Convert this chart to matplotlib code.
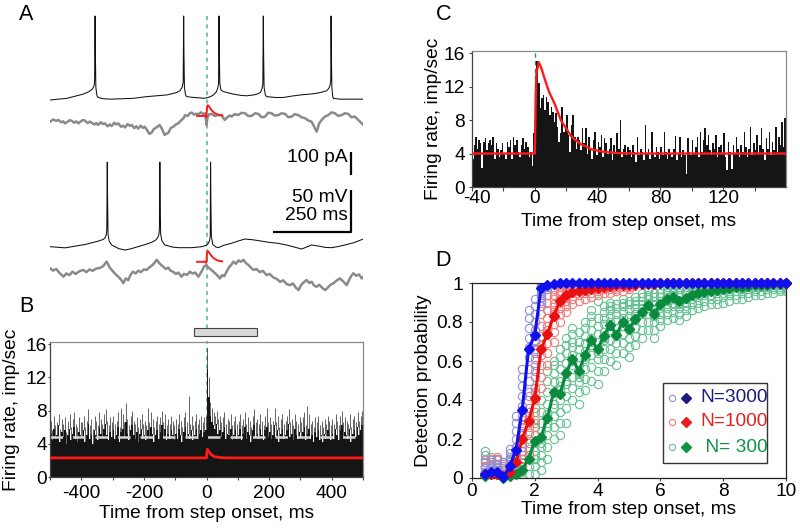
import numpy as np
import matplotlib
matplotlib.use('Agg')
import matplotlib.pyplot as plt
from matplotlib.patches import Rectangle
from matplotlib.transforms import ScaledTranslation

plt.rcParams['font.family'] = ['Liberation Sans', 'DejaVu Sans']
plt.rcParams['axes.unicode_minus'] = False
FS = 13.8

# ======================= DATA =======================
# ---- Panel A: membrane potential (ms, mV) ----
v1_t = [-500, -446, -394, -375, -365, -359, -357.5, -356, -355, -353.5, -350, -346, -330, -308, -270,
        -234, -191, -160, -127, -110, -95, -85, -78, -74.5, -73, -72, -70.5, -67, -63, -40, -20, -8,
        5, 15, 22, 30, 35, 38.5, 40, 41, 42.5, 46, 54, 70, 86, 110, 128, 150, 165, 172, 177, 180,
        181.5, 182.5, 184, 188, 192, 220, 245, 270, 299, 330, 352, 370, 384, 391, 395, 397, 398,
        399, 400.5, 403, 405, 426, 460, 500]
v1_mv = [-65, -63, -58, -55, -52, -48, -42, 35, -10, -50, -60, -62, -63.5, -64, -63.5,
         -63, -61, -60, -59, -57.5, -56, -54, -50, -44, 35, -10, -50, -59, -61, -62, -62.5, -63,
         -62, -60.5, -59, -56, -52, -46, 35, -10, -45, -53, -55, -56.5, -58, -59.5, -60, -59, -57.5, -56, -52, -46,
         35, -10, -50, -59, -61, -62, -62, -60.5, -59, -58, -57, -55.5, -54, -51, -47, -42, 35,
         -10, -50, -60, -63, -64, -64, -64]
v2_t = [-500, -452, -420, -388, -346, -330, -324, -320, -318.5, -317, -316, -314.5, -311, -303, -280,
        -260, -240, -219, -195, -175, -163, -156, -152, -150.5, -149, -148, -146.5, -142, -133, -110,
        -90, -47, -15, 0, 6, 10, 12, 13, 14, 15.5, 20, 30, 38, 55, 80, 100, 123, 150, 176, 200, 229,
        260, 290, 304, 320, 336, 360, 380, 400, 420, 442, 470, 501]
v2_mv = [-64.6, -66, -64, -62, -58, -56, -54, -50, -44, 36, -10, -50, -58, -62.6, -67,
         -68.6, -67, -64.6, -62, -59.4, -57, -54, -50, -44, 36, -10, -50, -58, -62.6, -65,
         -65.8, -65.8, -64.6, -63, -60.6, -57, -52, 36, -10, -52, -62, -65, -65.8, -63, -60.6, -58, -55.5, -56.5, -58, -59.5, -60.6,
         -63, -66, -67.4, -65, -62.6, -64, -65.5, -65.8, -64.5, -62.6, -60, -55.5]

# ---- Panel A: input current (ms, pA) ----
i1_t = [-500, -490, -480, -473, -465, -458, -452, -444, -437, -431, -423, -416, -409, -401, -394, -388,
        -380, -373, -367, -358, -352, -346, -338, -331, -324, -316, -309, -303, -295, -288, -282, -273,
        -266, -260, -252, -245, -239, -231, -224, -218, -210, -203, -197, -190, -182, -175, -168, -160,
        -150, -142, -134, -122, -114, -106, -98, -90, -80, -72, -69, -60, -53, -47, -40, -33, -26, -18,
        -10, -5, -2, 0, 3, 8, 16, 26, 37, 48, 58, 66, 75, 80, 90, 101, 112, 123, 133, 144, 155, 166,
        176, 187, 197, 208, 218, 230, 240, 251, 262, 272, 282, 293, 304, 315, 325, 336, 344, 352, 360,
        368, 378, 389, 400, 410, 421, 432, 442, 453, 463, 474, 485, 496, 500]
i1_pa = [-8, 2, -4, 0, -10, -6, -15, -8, -1, -3, -12, -6, -15, -5, 0, -3,
         -14, -7, -12, -20, -14, -22, -10, -18, -15, -28, -20, -27, -12, -20, -15, -30,
         -25, -33, -18, -26, -22, -36, -28, -38, -25, -35, -30, -45, -62, -55, -40, -33,
         -22, -40, -66, -57, -35, -30, -20, -15, 0, 10, 22, 18, 30, 33, 24, 28, 25, 34,
         26, 30, 5, -22, 10, 25, 27, 18, 22, 22, 0, 12, 20, 15, 26, 22, 32, 30, 18, 18, 30, 27,
         12, 15, 32, 30, 20, 22, 30, 27, 12, 15, 26, 22, 12, 8, -2, -8, -30, -52, -15,
         0, 15, 22, 34, 30, 18, 22, 30, 27, 12, 15, 0, -15, -20]
i2_t = [-500, -490, -480, -470, -457, -448, -438, -428, -418, -406, -394, -384, -374, -364, -352, -340,
        -330, -319, -310, -298, -290, -280, -273, -266, -258, -250, -242, -235, -226, -218, -210, -200,
        -191, -182, -172, -165, -159, -152, -145, -138, -130, -122, -115, -107, -98, -90, -80, -72, -62,
        -53, -45, -36, -26, -18, -8, 0, 6, 14, 22, 30, 37, 43, 50, 57, 64, 72, 79, 86, 94, 102, 110,
        118, 126, 134, 142, 150, 160, 170, 180, 192, 202, 213, 224, 235, 245, 256, 267, 276, 285, 294,
        302, 310, 320, 328, 336, 344, 352, 360, 370, 379, 388, 396, 405, 415, 426, 436, 448, 456, 462,
        469, 478, 487, 496, 500]
i2_pa = [15, 5, 12, -5, -22, -8, -15, 0, -10, 2, 8, -2, 10, 4, 14, 17,
         25, 45, 20, 0, -12, -25, -35, -51, -30, -38, -12, 0, -8, 5, -2, 10,
         8, 20, 30, 42, 53, 40, 30, 22, 12, 18, 5, 0, -10, -4, -22, -10, -14,
         0, -8, -4, -22, -5, 22, 30, 18, 10, 0, -10, -20, -30, -15, -20, 0, 20, 30, 45, 35, 50, 44,
         53, 38, 30, 18, 8, 12, -2, 4, -15, -10, -25, -32, -45, -38, -55, -60, -52, -70, -82,
         -60, -48, -37, -50, -45, -62, -67, -58, -72, -82, -70, -58, -52, -40, -30, -42, -60, -35, -20,
         -7, -18, -12, -30, -25]

# spike-triggered current transient (ms, pA above local level)
sta_t = [-30, -3, -1, 0, 1, 2, 4, 7, 10, 15, 20, 28, 38, 50]
sta_pa = [0, 0, -5, 0, 25, 42, 48, 44, 38, 28, 20, 11, 5, 2]
sta_level = [18, 44]

# ---- Panel B: firing rate, 5-ms bins from -500 ms ----
b_start, b_bin = -500, 5
b_solid = [5.2, 4.4, 5.8, 4.6, 5.0, 6.2, 4.2, 5.4, 4.8, 5.6, 4.0, 5.0, 5.8, 4.4, 5.2, 6.0, 4.6, 4.2, 5.4, 5.0,
           4.8, 5.6, 4.2, 5.0, 6.4, 4.6, 5.2, 4.0, 5.6, 5.0, 4.4, 6.0, 5.2, 4.6, 5.8, 6.4, 5.0, 4.4, 5.4, 4.8,
           5.6, 4.6, 5.0, 6.0, 4.2, 5.4, 5.8, 4.8, 6.6, 5.2, 4.4, 5.6, 6.2, 5.0, 4.6, 5.4, 4.2, 5.2, 5.8, 4.6,
           5.0, 4.4, 5.6, 4.8, 6.0, 5.2, 4.2, 5.0, 5.6, 4.6, 5.4, 6.2, 4.8, 5.8, 4.4, 5.2, 4.6, 5.6, 5.0, 4.4,
           5.2, 4.6, 5.8, 5.0, 4.2, 5.4, 6.0, 4.8, 5.2, 4.6, 5.6, 4.4, 5.0, 5.8, 4.6, 5.2, 5.6, 4.8, 5.4, 5.6,
           13.0, 9.6, 7.4, 6.6, 6.2, 5.8, 6.4, 5.2, 5.6, 4.8, 5.4, 6.0, 4.6, 5.2, 5.0, 5.8, 4.4, 5.0, 5.6, 4.6,
           5.0, 5.8, 4.4, 5.2, 6.0, 4.6, 5.4, 5.0, 4.2, 5.6, 6.2, 4.8, 5.2, 4.6, 5.8, 5.0, 4.4, 5.6, 6.0, 4.8,
           5.4, 4.6, 5.0, 6.2, 4.8, 5.6, 4.2, 5.2, 5.8, 4.6, 5.0, 5.6, 6.4, 4.8, 5.2, 4.4, 5.8, 5.0, 4.6, 5.4,
           4.8, 5.4, 6.0, 4.4, 5.2, 5.8, 4.6, 5.0, 4.2, 5.4, 4.8, 5.6, 4.4, 5.0, 4.2, 5.2, 4.6, 5.6, 5.0, 4.4,
           5.2, 4.6, 5.8, 5.0, 4.4, 5.6, 6.2, 4.8, 5.4, 5.0, 4.6, 5.8, 4.2, 5.2, 5.6, 4.8, 6.0, 5.0, 5.6, 6.2]
b_peak = [6.8, 5.6, 7.4, 6.2, 6.6, 7.6, 5.8, 7.0, 6.4, 7.2, 5.4, 6.8, 7.6, 6.0, 7.0, 7.8, 6.4, 6.0, 7.2, 6.6,
          6.6, 7.4, 6.0, 6.8, 8.2, 6.2, 7.0, 5.8, 7.4, 6.8, 6.2, 7.8, 7.0, 6.4, 7.6, 8.2, 6.8, 6.2, 7.2, 6.6,
          7.4, 6.4, 6.8, 7.8, 6.0, 8.3, 7.6, 6.6, 8.9, 7.0, 6.2, 7.4, 8.0, 6.8, 6.4, 7.2, 6.0, 7.0, 7.6, 6.4,
          6.8, 6.2, 8.3, 6.6, 7.8, 7.0, 6.0, 6.8, 7.4, 6.4, 7.2, 8.0, 6.6, 7.6, 6.2, 7.0, 6.4, 7.4, 6.8, 6.2,
          7.0, 6.4, 7.6, 6.8, 6.0, 7.2, 7.8, 6.6, 9.8, 6.4, 7.4, 6.2, 6.8, 7.6, 6.4, 7.0, 7.4, 6.6, 7.2, 7.4,
          15.5, 12.0, 9.0, 8.3, 7.8, 7.4, 8.0, 7.0, 7.4, 6.6, 7.2, 7.8, 6.4, 7.0, 6.8, 7.6, 6.2, 6.8, 7.4, 6.4,
          6.8, 7.6, 6.2, 7.0, 7.8, 6.4, 7.2, 6.8, 6.0, 7.4, 8.2, 6.6, 7.0, 6.4, 7.6, 6.8, 6.2, 7.4, 8.3, 6.6,
          7.2, 6.4, 6.8, 8.3, 6.6, 7.4, 6.0, 7.0, 7.6, 6.4, 6.8, 7.4, 8.2, 6.6, 7.0, 6.2, 7.6, 6.8, 6.4, 7.2,
          6.6, 7.2, 7.8, 6.2, 8.6, 7.6, 6.4, 6.8, 6.0, 7.2, 6.6, 7.4, 6.2, 6.8, 6.0, 7.0, 6.4, 7.4, 6.8, 6.2,
          7.0, 6.4, 7.6, 6.8, 6.2, 7.4, 8.0, 6.6, 7.2, 6.8, 6.4, 7.6, 6.0, 7.0, 7.4, 6.6, 7.8, 6.8, 7.4, 7.9]
b_mean = 4.85
b_fit_t = [-500, 0, 1, 3, 8, 15, 25, 40, 60, 500]
b_fit_v = [2.3, 2.3, 3.0, 3.35, 3.0, 2.7, 2.45, 2.35, 2.3, 2.3]
b_window = [-40, 160]

# ---- Panel C: firing rate, 1-ms bins from -40 ms ----
c_start, c_bin = -40, 1
c_rate = [3.4, 5.0, 6.0, 4.6, 5.6, 5.2, 2.3, 5.4, 5.8, 4.4, 5.2, 5.6, 5.0, 6.0, 3.3, 5.2, 4.5, 3.6, 4.4, 5.2,
          4.0, 3.4, 5.4, 4.8, 5.6, 3.4, 6.0, 5.0, 5.6, 4.2, 3.6, 5.0, 5.8, 4.6, 5.4, 4.8, 3.6, 4.2, 2.5, 6.4,
          12.0, 15.1, 12.4, 9.4, 10.6, 11.0, 9.2, 10.8, 10.2, 8.6, 9.6, 9.0, 7.8, 8.8, 7.2, 5.4, 6.4, 9.6, 6.6, 7.0,
          8.6, 6.2, 4.2, 7.4, 8.6, 6.0, 4.6, 6.0, 5.6, 4.4, 7.0, 5.2, 7.0, 4.0, 6.0, 4.6, 3.4, 5.6, 6.6, 3.8,
          5.4, 4.8, 6.2, 3.6, 5.8, 5.2, 4.0, 4.6, 5.8, 3.2, 5.0, 4.0, 6.4, 4.6, 8.0, 3.6, 4.6, 5.0, 3.8, 4.8,
          4.4, 3.6, 5.0, 4.2, 3.0, 6.0, 3.8, 4.6, 4.2, 3.2, 7.4, 4.0, 4.6, 3.4, 6.6, 4.0, 3.6, 4.8, 4.2, 3.4,
          4.8, 3.8, 6.6, 4.2, 3.4, 4.6, 4.0, 3.6, 4.6, 6.1, 3.2, 4.0, 6.0, 3.6, 4.4, 3.8, 1.6, 5.8, 4.2, 3.8,
          5.6, 4.0, 4.8, 6.0, 3.6, 6.6, 4.2, 5.6, 7.0, 5.0, 6.2, 4.4, 3.8, 5.2, 4.6, 6.2, 3.6, 4.8, 5.0, 4.0,
          6.4, 3.6, 2.0, 5.4, 4.2, 2.2, 5.0, 4.0, 6.0, 4.6, 3.6, 5.0, 4.2, 6.6, 4.8, 3.6, 4.6, 7.2, 3.8, 5.2,
          4.4, 6.2, 4.0, 5.0, 7.0, 4.6, 3.2, 5.8, 4.6, 6.6, 3.8, 5.4, 4.4, 7.2, 4.2, 6.0, 5.0, 7.8, 4.8, 8.2]
c_fit_t = [-40, 0, 0.5, 1, 2.5, 4, 6.5, 9, 12.5, 16.8, 20, 23, 26, 29.5, 33, 36, 44, 53, 65, 80, 160]
c_fit_v = [4.0, 4.0, 10.0, 13.5, 14.9, 14.3, 12.8, 11.4, 10.0, 7.9, 7.0, 6.1, 5.6, 5.1, 4.8, 4.5, 4.2, 4.05, 4.0, 4.0, 4.0]

# ---- Panel D: detection probability ----
d_x = [0.4, 0.6, 0.8, 1.0, 1.2, 1.4, 1.6, 1.8, 2.0, 2.2, 2.4, 2.6, 2.8, 3.0, 3.2, 3.4, 3.6, 3.8, 4.0, 4.2,
       4.4, 4.6, 4.8, 5.0, 5.2, 5.4, 5.6, 5.8, 6.0, 6.2, 6.4, 6.6, 6.8, 7.0, 7.2, 7.4, 7.6, 7.8, 8.0, 8.2,
       8.4, 8.6, 8.8, 9.0, 9.2, 9.4, 9.6, 9.8, 10.0]
d_n3000 = [0.02, 0.03, 0.03, 0.005, 0.06, 0.145, 0.35, 0.66, 0.735, 0.975, 0.99, 0.995, 1.0, 1.0, 1.0, 1.0,
           1.0, 1.0, 1.0, 1.0, 1.0, 1.0, 1.0, 1.0, 1.0, 1.0, 1.0, 1.0, 1.0, 1.0, 1.0, 1.0, 1.0, 1.0, 1.0, 1.0,
           1.0, 1.0, 1.0, 1.0, 1.0, 1.0, 1.0, 1.0, 1.0, 1.0, 1.0, 1.0, 1.0]
d_n1000 = [0.02, 0.02, 0.02, 0.01, 0.03, 0.08, 0.2, 0.29, 0.41, 0.66, 0.74, 0.83, 0.91, 0.94, 0.955, 0.96,
           0.965, 0.97, 0.975, 0.98, 0.985, 0.99, 0.99, 0.99, 0.99, 0.995, 0.995, 0.995, 1.0, 1.0, 1.0, 1.0,
           1.0, 1.0, 1.0, 1.0, 1.0, 1.0, 1.0, 1.0, 1.0, 1.0, 1.0, 1.0, 1.0, 1.0, 1.0, 1.0, 1.0]
d_n300 = [0.01, 0.02, 0.02, 0.0, 0.01, 0.02, 0.04, 0.1, 0.19, 0.21, 0.31, 0.44, 0.43, 0.54, 0.61, 0.55,
          0.63, 0.71, 0.66, 0.73, 0.785, 0.735, 0.8, 0.765, 0.815, 0.85, 0.885, 0.84, 0.89, 0.92, 0.93, 0.91,
          0.925, 0.94, 0.95, 0.955, 0.96, 0.965, 0.97, 0.975, 0.98, 0.98, 0.985, 0.99, 0.99, 0.99, 0.995, 0.995, 1.0]
# individual runs (one row per x value, starting at 0.4 ms)
d_n3000_runs = [
    [0.00, 0.02, 0.05, 0.08, 0.12, 0.03], [0.01, 0.04, 0.06, 0.09, 0.02, 0.05],
    [0.00, 0.03, 0.07, 0.10, 0.05, 0.02], [0.00, 0.01, 0.02, 0.04, 0.06, 0.08],
    [0.00, 0.03, 0.05, 0.08, 0.10, 0.13, 0.15, 0.06, 0.11, 0.02],
    [0.04, 0.08, 0.12, 0.16, 0.20, 0.24, 0.28, 0.32, 0.14, 0.10],
    [0.16, 0.22, 0.27, 0.32, 0.37, 0.42, 0.47, 0.52, 0.56, 0.35],
    [0.44, 0.50, 0.56, 0.62, 0.67, 0.72, 0.77, 0.82, 0.86, 0.66],
    [0.55, 0.61, 0.66, 0.71, 0.76, 0.80, 0.84, 0.88, 0.92, 0.73],
    [0.88, 0.91, 0.94, 0.96, 0.98, 0.99, 1.00, 0.97, 0.93, 0.95],
    [0.97, 0.99, 1.00, 1.00, 0.98, 0.99]]
d_n1000_runs = [
    [0.00, 0.03, 0.06, 0.09, 0.02, 0.05], [0.01, 0.04, 0.07, 0.10, 0.03, 0.06],
    [0.00, 0.02, 0.05, 0.09, 0.11, 0.04], [0.00, 0.01, 0.03, 0.05, 0.07, 0.02],
    [0.00, 0.02, 0.04, 0.07, 0.10, 0.05], [0.02, 0.05, 0.08, 0.12, 0.16, 0.10],
    [0.06, 0.10, 0.14, 0.18, 0.22, 0.26, 0.30, 0.20, 0.12, 0.24],
    [0.12, 0.18, 0.23, 0.28, 0.32, 0.36, 0.42, 0.26, 0.30, 0.34],
    [0.22, 0.28, 0.34, 0.40, 0.46, 0.52, 0.58, 0.64, 0.70, 0.44],
    [0.46, 0.52, 0.58, 0.63, 0.68, 0.73, 0.78, 0.84, 0.90, 0.66],
    [0.58, 0.64, 0.69, 0.74, 0.78, 0.82, 0.86, 0.90, 0.94, 0.76],
    [0.70, 0.75, 0.79, 0.83, 0.86, 0.89, 0.92, 0.94, 0.97, 0.84],
    [0.80, 0.84, 0.87, 0.90, 0.92, 0.94, 0.96, 0.98, 0.99, 0.91],
    [0.85, 0.88, 0.91, 0.93, 0.95, 0.96, 0.97, 0.98, 0.99, 0.94],
    [0.89, 0.92, 0.95, 0.97, 0.98, 1.00], [0.91, 0.94, 0.96, 0.98, 0.99, 1.00],
    [0.92, 0.95, 0.97, 0.98, 0.99, 1.00], [0.93, 0.95, 0.97, 0.98, 0.99, 1.00],
    [0.94, 0.96, 0.97, 0.98, 0.99, 1.00], [0.95, 0.97, 0.98, 0.99, 1.00, 1.00],
    [0.95, 0.97, 0.98, 0.99, 1.00, 1.00], [0.96, 0.97, 0.98, 0.99, 1.00, 1.00],
    [0.96, 0.98, 0.99, 1.00, 1.00, 1.00], [0.97, 0.98, 0.99, 1.00, 1.00, 1.00]]
d_n300_runs = [
    [0.00, 0.03, 0.06, 0.10, 0.14, 0.02], [0.00, 0.02, 0.05, 0.08, 0.11, 0.04],
    [0.00, 0.02, 0.04, 0.07, 0.10, 0.03], [0.00, 0.01, 0.03, 0.05, 0.08, 0.02],
    [0.00, 0.01, 0.03, 0.06, 0.09, 0.04], [0.00, 0.02, 0.04, 0.07, 0.10, 0.05],
    [0.00, 0.03, 0.06, 0.10, 0.14, 0.08], [0.02, 0.06, 0.10, 0.15, 0.20, 0.12],
    [0.02, 0.06, 0.10, 0.14, 0.18, 0.22, 0.26, 0.30, 0.12, 0.36],
    [0.04, 0.08, 0.12, 0.16, 0.20, 0.24, 0.28, 0.34, 0.40, 0.18],
    [0.10, 0.16, 0.22, 0.28, 0.33, 0.38, 0.44, 0.50, 0.55, 0.26],
    [0.20, 0.26, 0.32, 0.38, 0.44, 0.49, 0.54, 0.58, 0.60, 0.36],
    [0.22, 0.28, 0.34, 0.40, 0.45, 0.50, 0.56, 0.62, 0.66, 0.47],
    [0.28, 0.36, 0.42, 0.48, 0.54, 0.59, 0.64, 0.68, 0.72, 0.50],
    [0.40, 0.46, 0.52, 0.58, 0.63, 0.67, 0.70, 0.74, 0.77, 0.60],
    [0.38, 0.44, 0.49, 0.54, 0.58, 0.62, 0.66, 0.70, 0.75, 0.52],
    [0.45, 0.51, 0.56, 0.61, 0.65, 0.69, 0.73, 0.77, 0.80, 0.62],
    [0.50, 0.57, 0.63, 0.68, 0.72, 0.76, 0.80, 0.83, 0.86, 0.70],
    [0.48, 0.55, 0.61, 0.66, 0.70, 0.74, 0.78, 0.82, 0.91, 0.64],
    [0.55, 0.61, 0.66, 0.71, 0.75, 0.79, 0.82, 0.85, 0.88, 0.72],
    [0.60, 0.66, 0.71, 0.76, 0.80, 0.83, 0.86, 0.88, 0.90, 0.78],
    [0.58, 0.64, 0.69, 0.73, 0.77, 0.81, 0.84, 0.87, 0.89, 0.74],
    [0.64, 0.69, 0.74, 0.78, 0.82, 0.85, 0.88, 0.90, 0.92, 0.80],
    [0.62, 0.67, 0.72, 0.76, 0.80, 0.83, 0.86, 0.89, 0.91, 0.77],
    [0.68, 0.73, 0.77, 0.81, 0.84, 0.87, 0.89, 0.91, 0.93, 0.82],
    [0.72, 0.76, 0.80, 0.84, 0.87, 0.89, 0.91, 0.93, 0.95, 0.85],
    [0.76, 0.80, 0.84, 0.87, 0.90, 0.92, 0.94, 0.96, 0.97, 0.88],
    [0.72, 0.76, 0.80, 0.83, 0.86, 0.89, 0.91, 0.93, 0.95, 0.84],
    [0.78, 0.81, 0.84, 0.87, 0.89, 0.91, 0.93, 0.95, 0.97, 0.88],
    [0.81, 0.84, 0.87, 0.89, 0.91, 0.93, 0.95, 0.96, 0.98, 0.92],
    [0.82, 0.85, 0.88, 0.90, 0.92, 0.94, 0.95, 0.96, 0.98, 0.93],
    [0.81, 0.84, 0.87, 0.89, 0.91, 0.93, 0.94, 0.95, 0.97, 0.90],
    [0.83, 0.86, 0.88, 0.90, 0.92, 0.94, 0.95, 0.96, 0.98, 0.92],
    [0.86, 0.89, 0.92, 0.95, 0.97, 0.99], [0.87, 0.90, 0.93, 0.95, 0.97, 0.99],
    [0.88, 0.91, 0.94, 0.96, 0.98, 0.99], [0.89, 0.92, 0.94, 0.96, 0.98, 1.00],
    [0.89, 0.92, 0.95, 0.97, 0.98, 1.00], [0.90, 0.93, 0.95, 0.97, 0.99, 1.00],
    [0.91, 0.94, 0.96, 0.97, 0.99, 1.00], [0.92, 0.94, 0.96, 0.98, 0.99, 1.00],
    [0.92, 0.95, 0.97, 0.98, 0.99, 1.00], [0.93, 0.95, 0.97, 0.98, 0.99, 1.00],
    [0.94, 0.96, 0.97, 0.98, 0.99, 1.00], [0.94, 0.96, 0.98, 0.99, 1.00, 1.00],
    [0.95, 0.97, 0.98, 0.99, 1.00, 1.00], [0.95, 0.97, 0.98, 0.99, 1.00, 1.00],
    [0.96, 0.97, 0.98, 0.99, 1.00, 1.00], [0.96, 0.97, 0.98, 0.99, 1.00, 1.00]]
d_labels = ['N=3000', 'N=1000', ' N= 300']

# ======================= FIGURE =======================
W, H = 800, 529
fig = plt.figure(figsize=(W / 100, H / 100), dpi=100)


def rect(l, t, r, b):
    return [l / W, 1 - b / H, (r - l) / W, (b - t) / H]


DASH = '#5cb8a6'
RED = '#ff1a1a'


def style_axis(ax, xpad, ypad, xlen, ylen):
    ax.tick_params(axis='both', which='both', direction='out', labelsize=FS, color='#444')
    ax.tick_params(axis='x', which='major', length=xlen, pad=xpad, width=0.8)
    ax.tick_params(axis='x', which='minor', length=xlen, width=0.8)
    ax.tick_params(axis='y', which='major', length=ylen, pad=ypad, width=0.8)


# ---------------- Panel A ----------------
axA = fig.add_axes(rect(50, 0, 363, 342))
axA.set_xlim(-500, 500)
axA.set_ylim(342, 0)
axA.axis('off')
MV, PA = 0.84, 0.225          # px per mV, px per pA
v_base = [100, 247]
i_base = [120, 271.7]
for vt, vv, it, ii, vb, ib, lev in [(v1_t, v1_mv, i1_t, i1_pa, v_base[0], i_base[0], sta_level[0]),
                                     (v2_t, v2_mv, i2_t, i2_pa, v_base[1], i_base[1], sta_level[1])]:
    axA.plot(vt, vb - (np.asarray(vv) + 65) * MV, color='#111111', lw=0.75)
    axA.plot(it, ib - np.asarray(ii) * PA, color='#8a8a8a', lw=1.8)
    axA.plot(sta_t, ib - (lev + np.asarray(sta_pa)) * PA, color=RED, lw=1.4)
axA.plot([0, 0], [16, 342], color=DASH, lw=1.2, ls=(0, (2.5, 2.5)), zorder=0)
# scale bars
sb_x = 462
axA.plot([sb_x, sb_x], [152, 152 + 100 * PA], color='k', lw=1.6, solid_capstyle='butt')
axA.plot([sb_x, sb_x, sb_x - 250], [232 - 50 * MV, 232, 232], color='k', lw=1.6, solid_capstyle='butt')
axA.text(450, 158, '100 pA', fontsize=FS, ha='right', va='center')
axA.text(450, 198, '50 mV', fontsize=FS, ha='right', va='center')
axA.text(452, 215, '250 ms', fontsize=FS, ha='right', va='center')

# ---------------- Panel B ----------------
axB = fig.add_axes(rect(50, 342, 363, 477))
b_edges = b_start + b_bin * np.arange(len(b_solid) + 1)
b_cent = b_edges[:-1] + b_bin / 2
axB.axvline(0, color=DASH, lw=1.2, ls=(0, (2.5, 2.5)), zorder=0.5)
axB.stairs(b_solid, b_edges, fill=True, color='#151515', zorder=1)
axB.vlines(b_cent, b_solid, b_peak, color='#262626', lw=0.5, zorder=1.1)
axB.axhline(b_mean, color='#d6d6d6', lw=1.8, ls=(0, (5, 4)), zorder=2)
axB.plot(b_fit_t, b_fit_v, color=RED, lw=2.0, zorder=3)
axB.add_patch(Rectangle((b_window[0], 17.0), b_window[1] - b_window[0], 0.9, fc='#d9d9d9', ec='#444',
                        lw=0.8, clip_on=False))
axB.set_xlim(-500, 500)
axB.set_ylim(0, 16.25)
axB.set_xticks([-400, -200, 0, 200, 400])
axB.set_xticks([-500, -300, -100, 100, 300, 500], minor=True)
axB.set_yticks([0, 4, 8, 12, 16])
style_axis(axB, xpad=3.6, ypad=0.4, xlen=2.2, ylen=1.6)
axB.set_xlabel('Time from step onset, ms', fontsize=FS, va='center')
axB.xaxis.set_label_coords(0.5, (477 - 513) / 135)
axB.set_ylabel('Firing rate, imp/sec', fontsize=FS, va='center')
axB.yaxis.set_label_coords((12 - 50) / 313, 0.5)

# ---------------- Panel C ----------------
axC = fig.add_axes(rect(472, 51, 786, 187))
c_edges = c_start + c_bin * np.arange(len(c_rate) + 1)
axC.axvline(0, color='#2e8b57', lw=1.0, ls=(0, (3, 2.5)), zorder=0.5)
axC.stairs(c_rate, c_edges, fill=True, color='#151515', zorder=1)
axC.plot(c_fit_t, c_fit_v, color=RED, lw=1.7, zorder=3)
axC.set_xlim(-40, 160)
axC.set_ylim(0, 16.25)
axC.set_xticks([-40, 0, 40, 80, 120])
axC.set_xticks([-20, 20, 60, 100, 140], minor=True)
axC.set_yticks([0, 4, 8, 12, 16])
style_axis(axC, xpad=-0.4, ypad=2.8, xlen=2.6, ylen=2.2)
first = axC.xaxis.get_major_ticks()[0].label1
first.set_transform(first.get_transform() + ScaledTranslation(5 / 100, 0, fig.dpi_scale_trans))
axC.set_xlabel('Time from step onset, ms', fontsize=FS, va='center')
axC.xaxis.set_label_coords(0.5, (187 - 222) / 136)
axC.set_ylabel('Firing rate, imp/sec', fontsize=FS, va='center')
axC.yaxis.set_label_coords((434 - 472) / 314, 0.5)

# ---------------- Panel D ----------------
axD = fig.add_axes(rect(472, 283, 786, 478))
series = [(d_n300, d_n300_runs, '#0a8a3c', '#66c092', '#0e9444'),
          (d_n1000, d_n1000_runs, '#e81010', '#f27a7a', '#e82020'),
          (d_n3000, d_n3000_runs, '#1010ee', '#9090d6', '#1c1c80')]
for mean, runs, col, rcol, _ in series:
    xs, ys = [], []
    for xv, row in zip(d_x, runs):
        xs += [xv] * len(row)
        ys += row
    axD.plot(xs, ys, ls='none', marker='o', ms=6, mfc='none', mec=rcol, mew=0.8, zorder=2)
for k, (mean, runs, col, rcol, _) in enumerate(series):
    axD.plot(d_x, mean, color=col, lw=2.2, marker='D', ms=4.8, mfc=col, mec=col, zorder=4 + k,
             clip_on=False)
axD.set_xlim(0, 10)
axD.set_ylim(0, 1)
axD.set_xticks([0, 2, 4, 6, 8, 10])
axD.set_yticks([0, 0.2, 0.4, 0.6, 0.8, 1.0])
axD.set_yticklabels(['0', '0.2', '0.4', '0.6', '0.8', '1'])
style_axis(axD, xpad=1.6, ypad=4.3, xlen=2.0, ylen=2.2)
axD.set_xlabel('Time from step onset, ms', fontsize=FS, va='center')
axD.xaxis.set_label_coords(0.5, (478 - 510) / 195)
axD.set_ylabel('Detection probability', fontsize=FS, va='center')
axD.yaxis.set_label_coords((423 - 472) / 314, 0.5)


# legend (manual, two symbols per entry)
def ax_xy(px, py):
    return (px - 472) / 314, (478 - py) / 195


lx0, ly0 = ax_xy(663, 463)
lx1, ly1 = ax_xy(767, 383)
axD.add_patch(Rectangle((lx0, ly0), lx1 - lx0, ly1 - ly0, transform=axD.transAxes, fc='white',
                        ec='#333', lw=1.0, zorder=10))
rows_y = [398, 422, 447]
for (mean, runs, col, rcol, tcol), lab, py in zip(series[::-1], d_labels, rows_y):
    cx, cy = ax_xy(672, py)
    dx, _ = ax_xy(686, py)
    tx, _ = ax_xy(700, py)
    axD.plot([cx], [cy], transform=axD.transAxes, marker='o', ms=4.5, mfc='none', mec=rcol, mew=0.8,
             zorder=11)
    axD.plot([dx], [cy], transform=axD.transAxes, marker='D', ms=5, mfc=tcol, mec=tcol, zorder=11)
    axD.text(tx, cy, lab, transform=axD.transAxes, fontsize=FS, color=tcol, ha='left', va='center',
             zorder=11)

for ax in (axB, axC, axD):
    for s in ('top', 'right'):
        ax.spines[s].set_color('#8a8a8a')
    for s in ('left', 'bottom'):
        ax.spines[s].set_color('#444')
    for s in ax.spines.values():
        s.set_linewidth(0.9)
for s in axD.spines.values():
    s.set_color('#222')

# panel letters
for lab, px, py in [('A', 26, 15), ('B', 26, 307), ('C', 444, 15), ('D', 443, 261)]:
    fig.text(px / W, 1 - py / H, lab, fontsize=15.5, ha='center', va='center')

fig.savefig('out.png', dpi=100)
